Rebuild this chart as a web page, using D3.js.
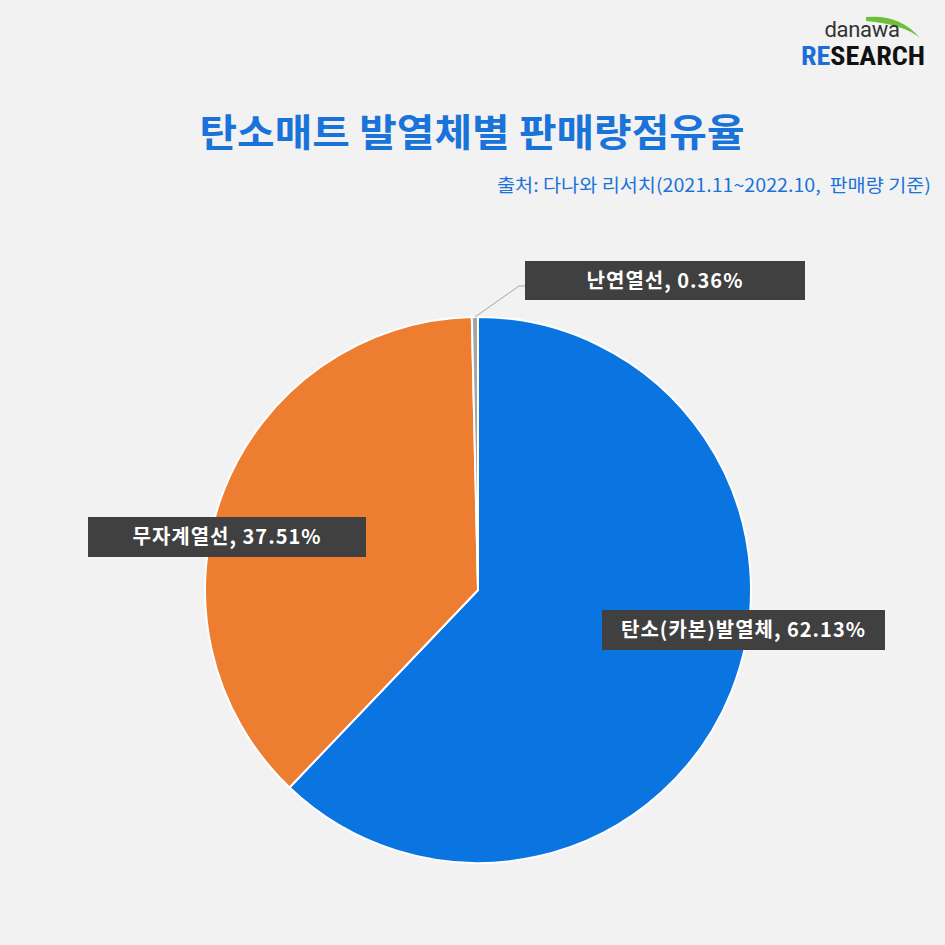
<!DOCTYPE html>
<html><head><meta charset="utf-8">
<script src="https://cdn.jsdelivr.net/npm/d3@7"></script>
<style>
html,body{margin:0;padding:0;background:#f2f2f2;}
svg{display:block;font-family:"Noto Sans CJK KR","Noto Sans",sans-serif;}
</style></head>
<body>
<svg id="c" width="945" height="945"></svg>
<script>
const categories = ["탄소(카본)발열체", "무자계열선", "난연열선"];
const values = [62.13, 37.51, 0.36];
const colors = ["#0a74e0", "#ed7d31", "#a5a5a5"];
const title = "탄소매트 발열체별 판매량점유율";
const subtitle = "출처: 다나와 리서치(2021.11~2022.10,  판매량 기준)";

const svg = d3.select("#c");
svg.append("rect").attr("width",945).attr("height",945).attr("fill","#f2f2f2");

// logo
const logo = svg.append("g");
logo.append("path").attr("d","M866,17 Q900,14 920,38 Q903,24 866,21 Z").attr("fill","#6cbf3a");
logo.append("text").attr("x",862).attr("y",37).attr("text-anchor","middle")
  .attr("font-family","Roboto, 'DejaVu Sans', sans-serif").attr("font-size",22).attr("fill","#333")
  .attr("letter-spacing",-0.3).text("danawa");
const rs = logo.append("text").attr("x",863).attr("y",65).attr("text-anchor","middle")
  .attr("font-family","'Roboto Condensed','Liberation Sans Narrow','DejaVu Sans Condensed',sans-serif")
  .attr("font-weight",700).attr("font-size",25).attr("textLength",124).attr("lengthAdjust","spacingAndGlyphs");
rs.append("tspan").attr("fill","#1a6fd8").text("RE");
rs.append("tspan").attr("fill","#111").text("SEARCH");

svg.append("text").attr("x",472).attr("y",146).attr("text-anchor","middle")
  .attr("font-size",38).attr("font-weight",700).attr("fill","#1a73d8")
  .attr("textLength",545).attr("lengthAdjust","spacingAndGlyphs").text(title);
svg.append("text").attr("x",931).attr("y",192).attr("text-anchor","end")
  .attr("font-size",18).attr("fill","#1a73d8").attr("xml:space","preserve")
  .attr("textLength",434).attr("lengthAdjust","spacingAndGlyphs").text(subtitle);

const cx = 478, cy = 590, r = 273;
const pie = d3.pie().sort(null).value(d=>d)(values);
const arc = d3.arc().innerRadius(0).outerRadius(r);
const g = svg.append("g").attr("transform",`translate(${cx},${cy})`);
g.selectAll("path").data(pie).join("path")
  .attr("d",arc).attr("fill",(d,i)=>colors[i]).attr("stroke","#fff").attr("stroke-width",2);

// labels
const labels = [
  {i:0, x:602, y:610, w:283, h:40},
  {i:1, x:88, y:517, w:278, h:40},
  {i:2, x:525, y:261, w:280, h:39}
];
// leader line for small slice
const sm = pie[2];
const mid = (sm.startAngle+sm.endAngle)/2;
const p0 = [cx + Math.sin(mid)*r, cy - Math.cos(mid)*r];
svg.append("polyline").attr("points",`${p0[0]},${p0[1]} 519,286 525,286`)
  .attr("fill","none").attr("stroke","#a5a5a5").attr("stroke-width",1);

labels.forEach(l=>{
  svg.append("rect").attr("x",l.x).attr("y",l.y).attr("width",l.w).attr("height",l.h).attr("fill","#404040");
  svg.append("text").attr("x",l.x+l.w/2).attr("y",l.y+l.h/2+7).attr("text-anchor","middle")
    .attr("font-size",20).attr("font-weight",700).attr("fill","#fff").attr("letter-spacing",1)
    .text(`${categories[l.i]}, ${values[l.i].toFixed(2)}%`);
});
</script>
</body></html>
